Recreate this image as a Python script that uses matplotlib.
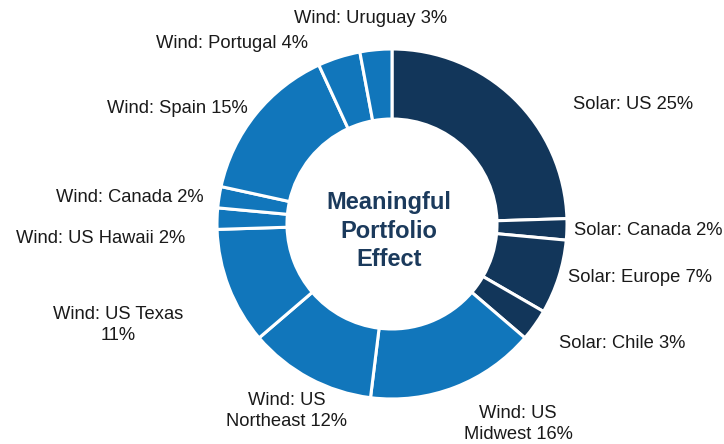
import matplotlib
matplotlib.use("Agg")
import matplotlib.pyplot as plt

# ---- data ----
categories = ["Solar: US", "Solar: Canada", "Solar: Europe", "Solar: Chile",
              "Wind: US Midwest", "Wind: US Northeast", "Wind: US Texas",
              "Wind: US Hawaii", "Wind: Canada", "Wind: Spain",
              "Wind: Portugal", "Wind: Uruguay"]
values = [25, 2, 7, 3, 16, 12, 11, 2, 2, 15, 4, 3]
technology = ["Solar", "Solar", "Solar", "Solar",
              "Wind", "Wind", "Wind", "Wind", "Wind", "Wind", "Wind", "Wind"]
label_texts = ["Solar: US 25%", "Solar: Canada 2%", "Solar: Europe 7%",
               "Solar: Chile 3%", "Wind: US\nMidwest 16%", "Wind: US\nNortheast 12%",
               "Wind: US Texas\n11%", "Wind: US Hawaii 2%", "Wind: Canada 2%",
               "Wind: Spain 15%", "Wind: Portugal 4%", "Wind: Uruguay 3%"]
center_title = "Meaningful\nPortfolio\nEffect"

# ---- styles / layout ----
colors_map = {"Solar": "#12365A", "Wind": "#1176BB"}
W, H = 724, 444
cx, cy = 392, 224           # donut centre in pixel coords (from top)
r_out, r_in = 175, 105
# label anchor positions (pixel coords from top-left) and alignment
label_pos = [(573, 104, "left"), (574, 230, "left"), (568, 277, "left"),
             (559, 343, "left"), (518, 424, "center"), (287, 411, "center"),
             (118, 325, "center"), (185, 238, "right"), (204, 197, "right"),
             (248, 108, "right"), (308, 43, "right"), (294, 18, "left")]

plt.rcParams["font.family"] = ["Liberation Sans", "DejaVu Sans"]

fig = plt.figure(figsize=(W / 100, H / 100), dpi=100)
ax = fig.add_axes([0, 0, 1, 1])
ax.pie(values, startangle=90, counterclock=False, radius=r_out,
       center=(cx, H - cy), colors=[colors_map[t] for t in technology],
       wedgeprops=dict(width=r_out - r_in, edgecolor="white", linewidth=2.2))
ax.set_xlim(0, W)
ax.set_ylim(0, H)
ax.set_aspect("equal")
ax.axis("off")

for txt, (x, y, ha) in zip(label_texts, label_pos):
    ax.text(x, H - y, txt, ha=ha, va="center", multialignment="center",
            fontsize=13.2, color="#1a1a1a", linespacing=1.3)

ax.text(cx - 3, H - 231, center_title, ha="center", va="center",
        fontsize=17, fontweight="bold", color="#1B3A5C", linespacing=1.3)

fig.savefig("out.png", dpi=100)
